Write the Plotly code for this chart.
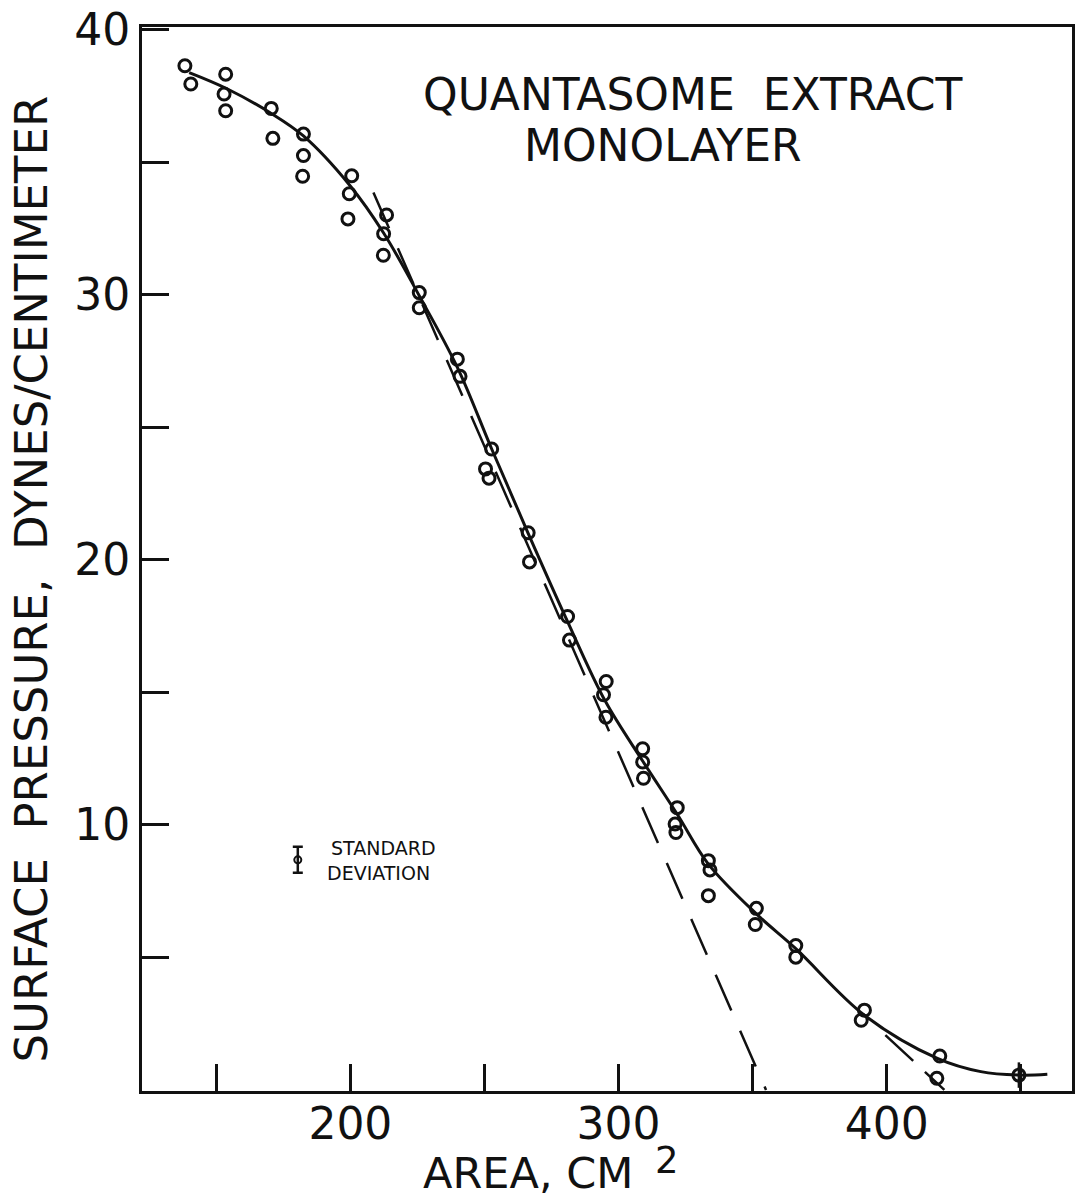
import plotly.graph_objects as go

# ---- data ----
area_pts = [138.3, 140.5, 153.5, 152.9, 153.5, 170.5, 171.1, 182.5, 182.5, 182.2,
            200.5, 199.6, 199.1, 213.5, 212.4, 212.3, 225.7, 225.7, 239.9, 240.9,
            252.7, 250.4, 251.7, 266.3, 266.8, 281.0, 281.7, 295.4, 294.4, 295.3,
            309.0, 309.0, 309.3, 321.9, 321.1, 321.4, 333.5, 334.1, 333.5, 351.4,
            351.0, 366.1, 366.1, 391.7, 390.5, 419.8, 418.7]
pressure_pts = [38.64, 37.95, 38.32, 37.57, 36.94, 37.03, 35.90, 36.06, 35.25, 34.47,
                34.49, 33.81, 32.86, 33.01, 32.30, 31.49, 30.08, 29.51, 27.57, 26.92,
                24.18, 23.43, 23.08, 21.02, 19.92, 17.86, 16.97, 15.41, 14.91, 14.06,
                12.87, 12.37, 11.76, 10.65, 10.03, 9.71, 8.65, 8.30, 7.33, 6.85,
                6.24, 5.45, 5.01, 3.01, 2.63, 1.28, 0.44]

# final point with its error bar
end_area = [449.3]
end_pressure = [0.56]
end_err = [0.48]

# smooth fitted curve
curve_area = [139.9, 153.8, 170.5, 182.5, 199.6, 212.4, 225.7, 239.9, 252.7, 266.3,
              281.0, 295.1, 309.0, 321.9, 333.5, 351.4, 366.1, 391.7, 418.9, 435.1,
              449.8, 459.9]
curve_pressure = [38.38, 37.78, 36.84, 35.99, 34.15, 32.33, 29.96, 27.26, 24.18, 21.0,
                  17.67, 14.66, 12.41, 10.40, 8.52, 6.64, 5.33, 2.82, 1.19, 0.69,
                  0.56, 0.59]

# dashed extrapolation lines
dash1_area = [208.6, 355.0]
dash1_pressure = [33.86, 0.0]
dash2_area = [399.5, 421.5]
dash2_pressure = [2.07, 0.0]

# standard deviation key
sd_area = [180.4]
sd_pressure = [8.68]
sd_err = [0.49]

x_ticks = [150, 200, 250, 300, 350, 400, 450]
x_labels = ["", "200", "", "300", "", "400", ""]
y_ticks = [5, 10, 15, 20, 25, 30, 35, 40]
y_labels = ["", "10", "", "20", "", "30", "", "40"]

FONT = "DejaVu Sans"
BLACK = "#111111"

fig = go.Figure()

fig.add_trace(go.Scatter(x=curve_area, y=curve_pressure, mode="lines",
                         line=dict(color=BLACK, width=3, shape="spline", smoothing=1.0),
                         hoverinfo="skip"))
fig.add_trace(go.Scatter(x=dash1_area, y=dash1_pressure, mode="lines",
                         line=dict(color=BLACK, width=2.5, dash="39px,22px")))
fig.add_trace(go.Scatter(x=dash2_area, y=dash2_pressure, mode="lines",
                         line=dict(color=BLACK, width=2.5, dash="38px,16px")))
fig.add_trace(go.Scatter(x=area_pts, y=pressure_pts, mode="markers",
                         marker=dict(symbol="circle-open", size=12, color=BLACK,
                                     line=dict(width=3, color=BLACK))))
fig.add_trace(go.Scatter(x=end_area, y=end_pressure, mode="markers",
                         marker=dict(symbol="circle-open", size=12, color=BLACK,
                                     line=dict(width=3, color=BLACK)),
                         error_y=dict(type="data", array=end_err, color=BLACK,
                                      thickness=2.5, width=0)))
fig.add_trace(go.Scatter(x=sd_area, y=sd_pressure, mode="markers",
                         marker=dict(symbol="circle-open", size=7, color=BLACK,
                                     line=dict(width=2, color=BLACK)),
                         error_y=dict(type="data", array=sd_err, color=BLACK,
                                      thickness=2.5, width=5)))

axis_common = dict(showline=True, linewidth=3, linecolor=BLACK, mirror=True,
                   ticks="inside", ticklen=27, tickwidth=3, tickcolor=BLACK,
                   showgrid=False, zeroline=False,
                   tickfont=dict(family=FONT, size=44, color=BLACK))

fig.update_xaxes(range=[122.3, 469.1], tickmode="array", tickvals=x_ticks,
                 ticktext=x_labels, ticklabelstandoff=-8, **axis_common)
fig.update_yaxes(range=[-0.04, 40.1], tickmode="array", tickvals=y_ticks,
                 ticktext=y_labels, ticklabelstandoff=0, **axis_common)

ann_font = dict(family=FONT, color=BLACK)
annotations = [
    dict(text="QUANTASOME  EXTRACT", x=0.593, y=0.937, font=dict(size=44, **ann_font)),
    dict(text="MONOLAYER", x=0.560, y=0.889, font=dict(size=44, **ann_font)),
    dict(text="STANDARD", x=0.201, y=0.228, xanchor="left", font=dict(size=19, **ann_font)),
    dict(text="DEVIATION", x=0.197, y=0.205, xanchor="left", font=dict(size=19, **ann_font)),
    dict(text="AREA, CM", x=0.415, y=-0.077, font=dict(size=43, **ann_font)),
    dict(text="2", x=0.564, y=-0.065, font=dict(size=37, **ann_font)),
    dict(text="SURFACE  PRESSURE,  DYNES/CENTIMETER", x=-0.119, y=0.481, textangle=-90,
         font=dict(size=45, **ann_font)),
]
for a in annotations:
    a.setdefault("xanchor", "center")
    fig.add_annotation(xref="paper", yref="paper", showarrow=False, yanchor="middle", **a)

fig.update_layout(width=1079, height=1201, showlegend=False,
                  paper_bgcolor="white", plot_bgcolor="white",
                  margin=dict(l=142, r=4, t=24, b=110))

fig.write_html("out.html")
